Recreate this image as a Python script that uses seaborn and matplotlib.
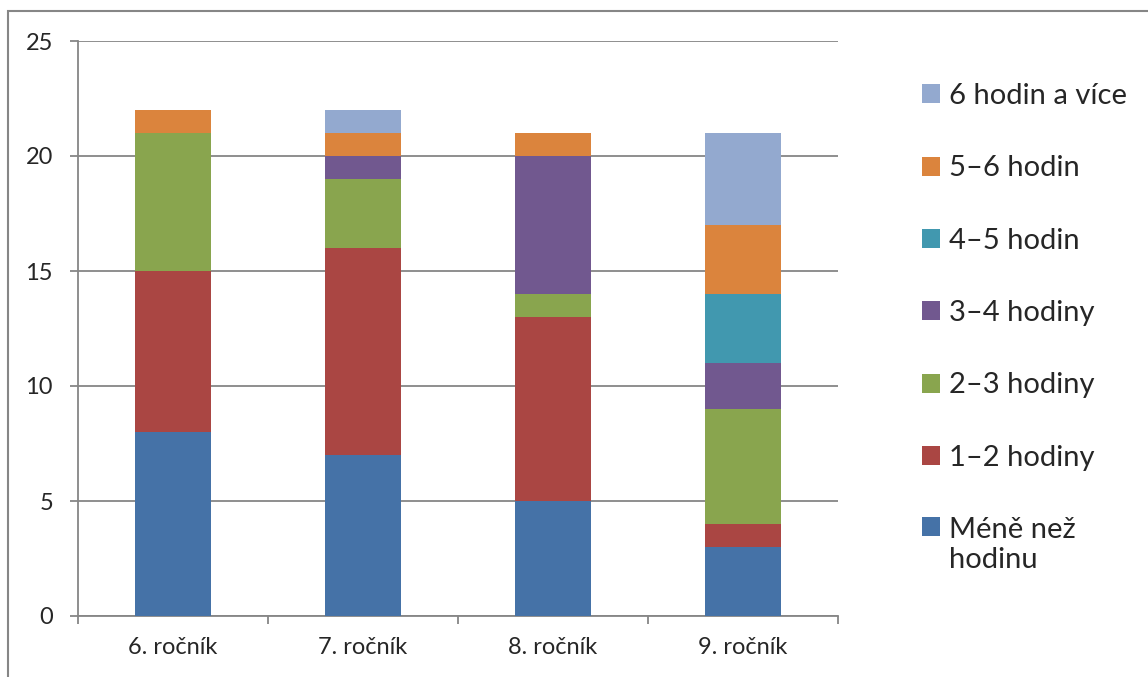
import numpy as np
import pandas as pd
import seaborn as sns
import matplotlib.pyplot as plt
from matplotlib.patches import Rectangle, Patch

grades = ["6. ročník", "7. ročník", "8. ročník", "9. ročník"]
series_names = ["Méně než\nhodinu", "1–2 hodiny", "2–3 hodiny", "3–4 hodiny",
                "4–5 hodin", "5–6 hodin", "6 hodin a více"]
less_than_hour = [8, 7, 5, 3]
one_two = [7, 9, 8, 1]
two_three = [6, 3, 1, 5]
three_four = [0, 1, 6, 2]
four_five = [0, 0, 0, 3]
five_six = [1, 1, 1, 3]
six_plus = [0, 1, 0, 4]
colors = ["#4572A7", "#AA4643", "#89A54E", "#71588F", "#4198AF", "#DB843D", "#93A9CF"]

values = [less_than_hour, one_two, two_three, three_four, four_five, five_six, six_plus]
df = pd.DataFrame(dict(zip(series_names, values)), index=grades)
cum = df.cumsum(axis=1)

sns.set_style("white")
plt.rcParams["font.family"] = ["Lato", "DejaVu Sans"]
GRAY = "#868686"

fig = plt.figure(figsize=(11.48, 6.77), dpi=100)
ax = fig.add_axes([78 / 1148, 61 / 677, 760 / 1148, 575 / 677])

# stacked bars: draw cumulative totals from the top series down
for name, col in reversed(list(zip(series_names, colors))):
    sns.barplot(x=grades, y=cum[name].values, color=col, width=0.4,
                saturation=1, ax=ax, zorder=3, linewidth=0)

ax.set_ylim(0, 25)
ax.set_xlim(-0.5, 3.5)
ax.set_yticks(range(0, 26, 5))
ax.yaxis.grid(True, color=GRAY, linewidth=1.3)
ax.set_axisbelow(True)
for s in ["top", "right"]:
    ax.spines[s].set_visible(False)
for s in ["left", "bottom"]:
    ax.spines[s].set_color(GRAY)
    ax.spines[s].set_linewidth(1.3)

ax.set_xticks(np.arange(-0.5, 4, 1), minor=True)
ax.tick_params(axis="x", which="major", length=0, pad=15, labelsize=17)
ax.tick_params(axis="x", which="minor", length=6, width=1.3, color=GRAY, direction="out", bottom=True)
ax.tick_params(axis="y", length=6, width=1.3, color=GRAY, direction="out", pad=12, labelsize=17, left=True)
ax.set_xlabel("")
ax.set_ylabel("")

handles = [Patch(facecolor=c, edgecolor="none") for c in colors]
leg = fig.legend(handles[::-1], series_names[::-1], loc="upper left",
                 bbox_to_anchor=(922 / 1148, (677 - 83) / 677), frameon=False,
                 fontsize=21, handlelength=0.62, handleheight=0.62,
                 handletextpad=0.3, labelspacing=1.59, borderpad=0, borderaxespad=0)
# square of the two-line entry sits beside its first line
last_row = leg._legend_handle_box.get_children()[0].get_children()[-1]
last_row.align = "top"

fig.patches.append(Rectangle((8 / 1148, -0.05), 1.2, (677 - 11) / 677 + 0.05,
                             transform=fig.transFigure, fill=False,
                             edgecolor=GRAY, linewidth=1.5))

fig.savefig("out.png", dpi=100)
